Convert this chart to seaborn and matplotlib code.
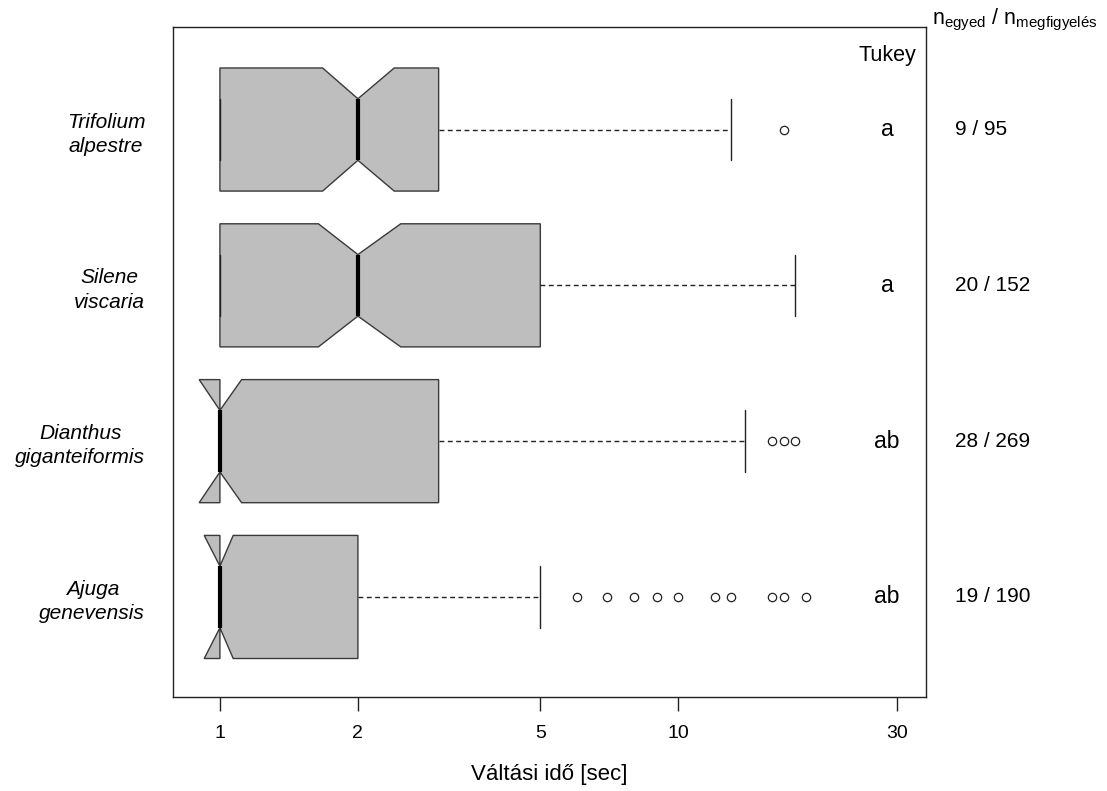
import matplotlib
matplotlib.use("Agg")
import matplotlib.pyplot as plt
import seaborn as sns
import numpy as np

# ---- data ----
species = ["Ajuga\ngenevensis", "Dianthus\ngiganteiformis", "Silene\nviscaria", "Trifolium\nalpestre"]
q1 = [1, 1, 1, 1]
median = [1, 1, 2, 2]
q3 = [2, 3, 5, 3]
whisker_low = [1, 1, 1, 1]
whisker_high = [5, 14, 18, 13]
notch_low = [0.924, 0.901, 1.64, 1.675]
notch_high = [1.069, 1.115, 2.48, 2.40]
outliers = [
    [6, 7, 8, 9, 10, 12, 13, 16, 17, 19],
    [16, 17, 18],
    [],
    [17],
]
tukey = ["ab", "ab", "a", "a"]
counts = ["19 / 190", "28 / 269", "20 / 152", "9 / 95"]
xticks = [1, 2, 5, 10, 30]

sns.set_style("white")
plt.rcParams["font.family"] = ["Liberation Sans", "DejaVu Sans"]
plt.rcParams["mathtext.fontset"] = "custom"
plt.rcParams["mathtext.rm"] = "Liberation Sans"
for key in ["text.color", "axes.labelcolor", "xtick.color", "ytick.color"]:
    plt.rcParams[key] = "black"

fig = plt.figure(figsize=(11.07, 7.91), dpi=100)
ax = fig.add_axes([173 / 1107, 1 - 697 / 791, (926 - 173) / 1107, (697 - 27) / 791])

positions = list(range(1, len(species) + 1))
stats = []
for i in range(len(species)):
    stats.append(dict(med=median[i], q1=q1[i], q3=q3[i], whislo=whisker_low[i],
                      whishi=whisker_high[i], cilo=notch_low[i], cihi=notch_high[i],
                      fliers=np.array(outliers[i], dtype=float), label=species[i]))

ax.bxp(stats, positions=positions, widths=0.79, orientation="horizontal", shownotches=True,
       patch_artist=True, showfliers=True,
       boxprops=dict(facecolor="#bebebe", edgecolor="#3a3a3a", linewidth=1.0),
       medianprops=dict(color="black", linewidth=3.0, solid_capstyle="butt"),
       whiskerprops=dict(color="#222222", linewidth=1.0, linestyle=(0, (3.5, 2.5))),
       capprops=dict(color="#222222", linewidth=1.0),
       flierprops=dict(marker="o", markerfacecolor="none", markeredgecolor="#222222",
                       markersize=6, markeredgewidth=0.9, linestyle="none"))

ax.set_xscale("log")
ax.set_xlim(0.790, 34.7)
ax.set_ylim(0.358, 4.658)
ax.set_xticks(xticks)
ax.set_xticklabels([str(t) for t in xticks])
ax.xaxis.set_minor_locator(matplotlib.ticker.NullLocator())
ax.tick_params(axis="x", length=10, width=1, color="#222222", pad=10,
               labelsize=14, bottom=True)
ax.set_yticks(positions)
ax.set_yticklabels(species)
ax.tick_params(axis="y", length=0, pad=20, labelsize=15)
for lab in ax.get_yticklabels():
    lab.set_fontstyle("italic")
    lab.set_multialignment("center")
    lab.set_linespacing(1.35)

ax.set_xlabel("Váltási idő [sec]", fontsize=16, labelpad=16)

for sp in ax.spines.values():
    sp.set_color("#222222")
    sp.set_linewidth(1.0)
    sp.set_visible(True)

trans = matplotlib.transforms.blended_transform_factory(ax.transAxes, ax.transData)
x_tukey = (887 - 173) / (926 - 173)
x_count = (955 - 173) / (926 - 173)
for i, p in enumerate(positions):
    ax.text(x_tukey, p, tukey[i], transform=trans, ha="center", va="center",
            fontsize=16.5, color="black")
    ax.text(x_count, p, counts[i], transform=trans, ha="left", va="center",
            fontsize=15, color="black", clip_on=False)

ax.text(x_tukey, 1 - (55 - 27) / (697 - 27), "Tukey", transform=ax.transAxes,
        ha="center", va="center", fontsize=15.5)
fig.text(1015 / 1107, 1 - 20 / 791,
         r"n$_\mathregular{egyed}$ / n$_\mathregular{megfigyelés}$",
         ha="center", va="center", fontsize=15.5)

fig.savefig("out.png", dpi=100)
